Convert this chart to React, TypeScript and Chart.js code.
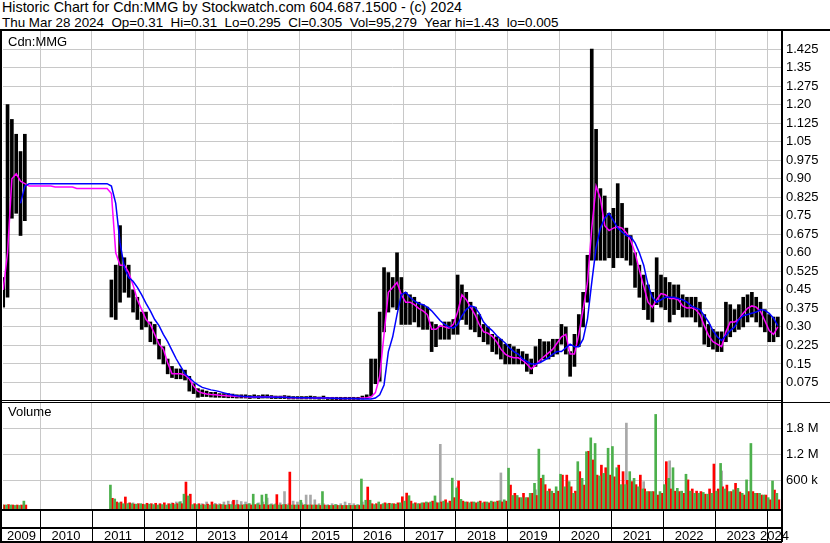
import React, { useEffect, useRef } from "react";
import { Chart, registerables } from "chart.js";
Chart.register(...registerables);

// ---------------- data (monthly, Apr 2009 .. Mar 2024) ----------------
const FIRST_YEAR = 2009;
const FIRST_MONTH = 4;

const HIGH = [
  /*2009*/ 0.50, 1.20, 1.14, 1.08, 1.01, 1.08, null, null, null,
  /*2010*/ null, null, null, null, null, null, null, null, null, null, null, null,
  /*2011*/ null, null, null, null, 0.49, 0.55, 0.71, 0.58, 0.55, 0.45, 0.42, 0.36,
  /*2012*/ 0.36, 0.32, 0.31, 0.25, 0.22, 0.17, 0.14, 0.13, 0.13, 0.125, 0.10, 0.07,
  /*2013*/ 0.05, 0.045, 0.04, 0.035, 0.035, 0.03, 0.03, 0.03, 0.028, 0.025, 0.025, 0.025,
  /*2014*/ 0.022, 0.025, 0.022, 0.025, 0.025, 0.022, 0.02, 0.02, 0.022, 0.02, 0.018, 0.018,
  /*2015*/ 0.018, 0.018, 0.02, 0.018, 0.016, 0.02, 0.015, 0.015, 0.015, 0.015, 0.015, 0.015,
  /*2016*/ 0.015, 0.015, 0.02, 0.025, 0.17, 0.17, 0.36, 0.54, 0.52, 0.50, 0.60, 0.50,
  /*2017*/ 0.44, 0.43, 0.42, 0.40, 0.39, 0.38, 0.32, 0.31, 0.30, 0.32, 0.32, 0.33,
  /*2018*/ 0.51, 0.47, 0.44, 0.40, 0.38, 0.35, 0.31, 0.30, 0.27, 0.26, 0.25, 0.23,
  /*2019*/ 0.23, 0.22, 0.21, 0.20, 0.19, 0.17, 0.22, 0.25, 0.24, 0.24, 0.25, 0.25,
  /*2020*/ 0.31, 0.30, 0.20, 0.27, 0.35, 0.44, 0.59, 1.425, 1.10, 0.86, 0.83, 0.76,
  /*2021*/ 0.78, 0.88, 0.80, 0.70, 0.67, 0.60, 0.55, 0.51, 0.47, 0.44, 0.58, 0.51,
  /*2022*/ 0.50, 0.48, 0.47, 0.47, 0.43, 0.42, 0.42, 0.42, 0.40, 0.35, 0.31, 0.29,
  /*2023*/ 0.28, 0.28, 0.40, 0.39, 0.37, 0.39, 0.42, 0.43, 0.44, 0.42, 0.40, 0.37,
  /*2024*/ 0.35, 0.34, 0.34,
];

const LOW = [
  /*2009*/ 0.38, 0.42, 0.74, 0.76, 0.67, 0.73, null, null, null,
  /*2010*/ null, null, null, null, null, null, null, null, null, null, null, null,
  /*2011*/ null, null, null, null, 0.34, 0.33, 0.40, 0.44, 0.42, 0.36, 0.33, 0.29,
  /*2012*/ 0.30, 0.24, 0.23, 0.17, 0.15, 0.11, 0.095, 0.09, 0.09, 0.085, 0.04, 0.03,
  /*2013*/ 0.015, 0.018, 0.018, 0.016, 0.015, 0.015, 0.014, 0.013, 0.013, 0.012, 0.012, 0.012,
  /*2014*/ 0.01, 0.012, 0.01, 0.012, 0.012, 0.01, 0.01, 0.01, 0.01, 0.008, 0.008, 0.008,
  /*2015*/ 0.008, 0.008, 0.008, 0.008, 0.007, 0.008, 0.006, 0.006, 0.005, 0.005, 0.006, 0.006,
  /*2016*/ 0.006, 0.006, 0.008, 0.01, 0.02, 0.07, 0.08, 0.28, 0.36, 0.38, 0.37, 0.31,
  /*2017*/ 0.31, 0.31, 0.32, 0.30, 0.29, 0.29, 0.20, 0.22, 0.25, 0.25, 0.25, 0.27,
  /*2018*/ 0.27, 0.33, 0.31, 0.29, 0.28, 0.26, 0.24, 0.23, 0.20, 0.19, 0.17, 0.15,
  /*2019*/ 0.15, 0.15, 0.15, 0.15, 0.12, 0.11, 0.14, 0.16, 0.17, 0.17, 0.18, 0.19,
  /*2020*/ 0.23, 0.19, 0.10, 0.14, 0.22, 0.30, 0.40, 0.57, 0.57, 0.57, 0.57, 0.58,
  /*2021*/ 0.54, 0.58, 0.58, 0.57, 0.55, 0.46, 0.42, 0.37, 0.33, 0.32, 0.39, 0.38,
  /*2022*/ 0.37, 0.32, 0.35, 0.37, 0.34, 0.34, 0.34, 0.32, 0.30, 0.23, 0.22, 0.21,
  /*2023*/ 0.20, 0.20, 0.24, 0.26, 0.28, 0.29, 0.30, 0.32, 0.34, 0.32, 0.30, 0.28,
  /*2024*/ 0.24, 0.24, 0.26,
];

// short moving average (magenta)
const MA_SHORT = [
  /*2009*/ 0.45, 0.60, 0.90, 0.92, 0.89, 0.88, 0.87, 0.87, 0.87,
  /*2010*/ 0.87, 0.87, 0.87, 0.866, 0.866, 0.866, 0.866, 0.866, 0.86, 0.86, 0.86, 0.86,
  /*2011*/ 0.86, 0.86, 0.86, 0.86, 0.84, 0.60, 0.55, 0.55, 0.52, 0.47, 0.41, 0.37,
  /*2012*/ 0.33, 0.31, 0.27, 0.23, 0.21, 0.155, 0.11, 0.11, 0.11, 0.105, 0.09, 0.06,
  /*2013*/ 0.04, 0.032, 0.028, 0.026, 0.025, 0.023, 0.022, 0.02, 0.02, 0.018, 0.018, 0.017,
  /*2014*/ 0.016, 0.017, 0.016, 0.017, 0.017, 0.016, 0.015, 0.015, 0.015, 0.013, 0.013, 0.013,
  /*2015*/ 0.013, 0.013, 0.013, 0.012, 0.012, 0.013, 0.011, 0.011, 0.01, 0.01, 0.01, 0.01,
  /*2016*/ 0.01, 0.01, 0.012, 0.013, 0.016, 0.034, 0.10, 0.27, 0.44, 0.46, 0.48, 0.43,
  /*2017*/ 0.40, 0.40, 0.39, 0.375, 0.365, 0.35, 0.29, 0.29, 0.305, 0.30, 0.295, 0.31,
  /*2018*/ 0.36, 0.43, 0.41, 0.38, 0.35, 0.31, 0.28, 0.275, 0.262, 0.24, 0.21, 0.19,
  /*2019*/ 0.18, 0.175, 0.175, 0.165, 0.15, 0.13, 0.145, 0.165, 0.18, 0.195, 0.21, 0.235,
  /*2020*/ 0.26, 0.27, 0.19, 0.19, 0.27, 0.37, 0.48, 0.70, 0.87, 0.82, 0.71, 0.69,
  /*2021*/ 0.70, 0.705, 0.70, 0.68, 0.65, 0.60, 0.53, 0.465, 0.40, 0.38, 0.41, 0.435,
  /*2022*/ 0.43, 0.415, 0.415, 0.41, 0.385, 0.377, 0.378, 0.37, 0.35, 0.305, 0.265, 0.24,
  /*2023*/ 0.23, 0.22, 0.28, 0.32, 0.32, 0.33, 0.355, 0.375, 0.385, 0.38, 0.363, 0.325,
  /*2024*/ 0.285, 0.27, 0.30,
];

// long moving average (blue)
const MA_LONG = [
  /*2009*/ null, null, null, null, 0.80, 0.87, 0.88, 0.88, 0.88,
  /*2010*/ 0.88, 0.88, 0.88, 0.88, 0.88, 0.88, 0.88, 0.88, 0.88, 0.88, 0.88, 0.88,
  /*2011*/ 0.88, 0.88, 0.88, 0.88, 0.87, 0.80, 0.64, 0.54, 0.50, 0.485, 0.46, 0.43,
  /*2012*/ 0.395, 0.365, 0.33, 0.305, 0.27, 0.24, 0.205, 0.17, 0.14, 0.11, 0.095, 0.078,
  /*2013*/ 0.065, 0.055, 0.05, 0.045, 0.042, 0.038, 0.033, 0.028, 0.024, 0.021, 0.019, 0.018,
  /*2014*/ 0.017, 0.016, 0.016, 0.016, 0.016, 0.016, 0.015, 0.015, 0.015, 0.014, 0.014, 0.013,
  /*2015*/ 0.013, 0.013, 0.013, 0.012, 0.012, 0.012, 0.012, 0.011, 0.011, 0.01, 0.01, 0.01,
  /*2016*/ 0.01, 0.009, 0.008, 0.008, 0.008, 0.012, 0.025, 0.065, 0.20, 0.26, 0.35, 0.43,
  /*2017*/ 0.44, 0.42, 0.405, 0.395, 0.39, 0.38, 0.365, 0.345, 0.325, 0.31, 0.30, 0.295,
  /*2018*/ 0.31, 0.345, 0.37, 0.385, 0.38, 0.355, 0.32, 0.30, 0.285, 0.265, 0.25, 0.235,
  /*2019*/ 0.215, 0.20, 0.19, 0.17, 0.16, 0.15, 0.15, 0.155, 0.165, 0.175, 0.19, 0.20,
  /*2020*/ 0.20, 0.215, 0.23, 0.22, 0.22, 0.25, 0.33, 0.48, 0.62, 0.70, 0.74, 0.76,
  /*2021*/ 0.73, 0.70, 0.685, 0.67, 0.665, 0.64, 0.60, 0.55, 0.47, 0.42, 0.40, 0.41,
  /*2022*/ 0.42, 0.42, 0.42, 0.415, 0.41, 0.40, 0.385, 0.377, 0.37, 0.345, 0.32, 0.285,
  /*2023*/ 0.26, 0.245, 0.265, 0.285, 0.30, 0.33, 0.345, 0.35, 0.355, 0.36, 0.37, 0.367,
  /*2024*/ 0.355, 0.335, 0.305,
];

// volume: up periods (green), down periods (red), unchanged (grey)
const VOL_UP = [
  /*2009*/ 40e3, 30e3, 30e3, 20e3, 20e3, 120e3, null, null, null,
  /*2010*/ null, null, null, null, null, null, null, null, null, null, null, null,
  /*2011*/ null, null, null, null, 490e3, 170e3, 80e3, 60e3, 60e3, 60e3, 50e3, 60e3,
  /*2012*/ 40e3, 50e3, 40e3, 30e3, 40e3, 30e3, 50e3, 40e3, 100e3, 280e3, 240e3, 40e3,
  /*2013*/ 40e3, 30e3, 30e3, 30e3, 40e3, 30e3, 40e3, 30e3, 40e3, 30e3, 30e3, 40e3,
  /*2014*/ 60e3, 280e3, 60e3, 260e3, 280e3, 40e3, 40e3, 30e3, 40e3, 30e3, 30e3, 30e3,
  /*2015*/ 140e3, 40e3, 30e3, 30e3, 30e3, 340e3, 20e3, 20e3, 40e3, 20e3, 20e3, 20e3,
  /*2016*/ 20e3, 30e3, 630e3, 140e3, 140e3, 40e3, 100e3, 60e3, 60e3, 60e3, 50e3, 80e3,
  /*2017*/ 120e3, 245e3, 60e3, 60e3, 80e3, 100e3, 100e3, 240e3, 80e3, 120e3, 80e3, 650e3,
  /*2018*/ 420e3, 160e3, 100e3, 80e3, 100e3, 100e3, 80e3, 100e3, 120e3, 100e3, 130e3, 150e3,
  /*2019*/ 880e3, 250e3, 250e3, 200e3, 200e3, 300e3, 530e3, 1320e3, 720e3, 350e3, 350e3, 450e3,
  /*2020*/ 740e3, 450e3, 570e3, 300e3, 1030e3, 645e3, 1260e3, 1580e3, 1450e3, 700e3, 760e3, 1340e3,
  /*2021*/ 1380e3, 890e3, 500e3, 500e3, 800e3, 645e3, 450e3, 400e3, 340e3, 340e3, 2120e3, 340e3,
  /*2022*/ 500e3, 645e3, 890e3, 415e3, 350e3, 740e3, 350e3, 300e3, 300e3, 320e3, 280e3, 300e3,
  /*2023*/ 350e3, 990e3, 400e3, 340e3, 380e3, 415e3, 300e3, 610e3, 1450e3, 300e3, 300e3, 260e3,
  /*2024*/ 200e3, 585e3, 300e3,
];

const VOL_DOWN = [
  /*2009*/ 30e3, 40e3, 30e3, 30e3, 30e3, 30e3, null, null, null,
  /*2010*/ null, null, null, null, null, null, null, null, null, null, null, null,
  /*2011*/ null, null, null, null, 185e3, 100e3, 100e3, 215e3, 80e3, 50e3, 60e3, 50e3,
  /*2012*/ 70e3, 60e3, 70e3, 60e3, 80e3, 60e3, 70e3, 60e3, 60e3, 560e3, 280e3, 60e3,
  /*2013*/ 60e3, 40e3, 50e3, 100e3, 40e3, 40e3, 30e3, 40e3, 140e3, 40e3, 30e3, 40e3,
  /*2014*/ 30e3, 40e3, 30e3, 40e3, 30e3, 30e3, 270e3, 30e3, 40e3, 790e3, 30e3, 30e3,
  /*2015*/ 30e3, 30e3, 30e3, 30e3, 20e3, 30e3, 20e3, 20e3, 20e3, 20e3, 20e3, 20e3,
  /*2016*/ 20e3, 20e3, 30e3, 445e3, 60e3, 60e3, 40e3, 80e3, 70e3, 60e3, 80e3, 220e3,
  /*2017*/ 305e3, 120e3, 80e3, 60e3, 80e3, 80e3, 120e3, 80e3, 100e3, 150e3, 120e3, 200e3,
  /*2018*/ 585e3, 120e3, 100e3, 100e3, 80e3, 120e3, 100e3, 80e3, 100e3, 120e3, 100e3, 120e3,
  /*2019*/ 490e3, 300e3, 200e3, 300e3, 200e3, 300e3, 250e3, 645e3, 500e3, 400e3, 300e3, 350e3,
  /*2020*/ 720e3, 720e3, 450e3, 350e3, 800e3, 490e3, 1270e3, 1070e3, 720e3, 950e3, 890e3, 720e3,
  /*2021*/ 680e3, 950e3, 800e3, 600e3, 570e3, 500e3, 720e3, 400e3, 340e3, 340e3, 260e3, 300e3,
  /*2022*/ 1030e3, 400e3, 350e3, 340e3, 300e3, 610e3, 400e3, 350e3, 340e3, 280e3, 400e3, 975e3,
  /*2023*/ 400e3, 450e3, 490e3, 340e3, 530e3, 330e3, 260e3, 340e3, 340e3, 300e3, 260e3, 260e3,
  /*2024*/ 150e3, 375e3, 150e3,
];

const VOL_FLAT = [
  /*2009*/ null, null, null, null, null, null, null, null, null,
  /*2010*/ null, null, null, null, null, null, null, null, null, null, null, null,
  /*2011*/ null, null, null, null, null, null, null, null, 70e3, 80e3, null, null,
  /*2012*/ null, null, null, null, null, null, 80e3, 100e3, 110e3, null, null, null,
  /*2013*/ null, 60e3, 100e3, null, 70e3, 60e3, 100e3, 120e3, 110e3, 140e3, 110e3, 100e3,
  /*2014*/ 60e3, null, 80e3, 100e3, 190e3, 60e3, 60e3, 80e3, 340e3, 60e3, 120e3, 100e3,
  /*2015*/ 80e3, 260e3, 260e3, 150e3, 60e3, 60e3, 40e3, 60e3, 40e3, 60e3, 100e3, 70e3,
  /*2016*/ 60e3, 40e3, 100e3, null, null, null, null, null, null, null, null, null,
  /*2017*/ null, 100e3, null, null, null, 80e3, null, 100e3, 1430e3, null, null, null,
  /*2018*/ 450e3, null, null, null, null, null, null, null, null, null, 770e3, null,
  /*2019*/ null, null, null, null, null, null, 380e3, null, null, null, 300e3, null,
  /*2020*/ null, null, null, null, null, null, null, null, null, null, null, null,
  /*2021*/ null, null, null, 1920e3, null, null, null, 570e3, null, null, null, null,
  /*2022*/ null, 1050e3, null, null, null, null, null, null, null, null, null, null,
  /*2023*/ null, 815e3, null, null, null, null, null, null, null, null, null, null,
  /*2024*/ null, null, null,
];

const PRICE_TICKS = [0.075, 0.15, 0.225, 0.3, 0.375, 0.45, 0.525, 0.6, 0.675, 0.75, 0.825, 0.9, 0.975, 1.05, 1.125, 1.2, 1.275, 1.35, 1.425];
const PRICE_TICK_LABELS = ["0.075", "0.15", "0.225", "0.30", "0.375", "0.45", "0.525", "0.60", "0.675", "0.75", "0.825", "0.90", "0.975", "1.05", "1.125", "1.20", "1.275", "1.35", "1.425"];
const VOL_TICKS = [600000, 1200000, 1800000];
const VOL_TICK_LABELS = ["600 k", "1.2 M", "1.8 M"];
const YEAR_BOUNDARIES = [2010, 2011, 2012, 2013, 2014, 2015, 2016, 2017, 2018, 2019, 2020, 2021, 2022, 2023, 2024];
const YEAR_LABELS = ["2009", "2010", "2011", "2012", "2013", "2014", "2015", "2016", "2017", "2018", "2019", "2020", "2021", "2022", "2023", "2024"];

const HEADER_1 = "Historic Chart for Cdn:MMG by Stockwatch.com 604.687.1500 - (c) 2024";
const HEADER_2 = "Thu Mar 28 2024  Op=0.31  Hi=0.31  Lo=0.295  Cl=0.305  Vol=95,279  Year hi=1.43  lo=0.005";

// ---------------- layout constants ----------------
const X_MIN = 2009.2875;
const X_MAX = 2024.2884;
const P_MIN = 0;
const P_MAX = 1.498;
const V_MIN = -62000;
const V_MAX = 2407000;
const BAR_SHIFT = 0.019; // ~1px in years
const FONT = '"Liberation Sans", Arial, Helvetica, sans-serif';
const GRID = "#c8c8c8";

const monthTime = (i: number) => {
  const m = FIRST_MONTH - 1 + i;
  return FIRST_YEAR + Math.floor(m / 12) + ((m % 12) + 0.5) / 12;
};

const zeroPad = (s: any) => {
  s.paddingLeft = 0; s.paddingRight = 0; s.paddingTop = 0; s.paddingBottom = 0;
};

const yearBand = {
  id: "yearBand",
  afterDraw(chart: any) {
    const { ctx, chartArea, scales } = chart;
    const x = scales.x;
    const top = chartArea.bottom;
    const right = chartArea.right;
    ctx.save();
    ctx.fillStyle = "#000";
    ctx.fillRect(0, top, right, 2);
    ctx.fillRect(0, top + 18, right, 2);
    ctx.fillRect(0, top + 32, right, 2);
    YEAR_BOUNDARIES.forEach((b) => {
      const px = Math.round(x.getPixelForValue(b));
      ctx.fillRect(px, top, 1, 33);
    });
    ctx.font = `13px ${FONT}`;
    ctx.textAlign = "center";
    ctx.textBaseline = "alphabetic";
    const edges = [X_MIN, ...YEAR_BOUNDARIES, X_MAX];
    YEAR_LABELS.forEach((lab, i) => {
      const a = x.getPixelForValue(edges[i]);
      const b = x.getPixelForValue(edges[i + 1]);
      ctx.fillText(lab, (a + b) / 2, top + 31);
    });
    ctx.restore();
  },
};

export default function App() {
  const priceRef = useRef<HTMLCanvasElement>(null);
  const volRef = useRef<HTMLCanvasElement>(null);

  useEffect(() => {
    document.body.style.margin = "0";
    const bars = HIGH.map((h, i) => (h == null || LOW[i] == null ? null : { x: monthTime(i), y: [LOW[i], h] })).filter(Boolean);
    const maShort = MA_SHORT.map((v, i) => (v == null ? null : { x: monthTime(i), y: v })).filter(Boolean);
    const maLong = MA_LONG.map((v, i) => (v == null ? null : { x: monthTime(i), y: v })).filter(Boolean);

    const xScale = (h: number) => ({
      type: "linear",
      min: X_MIN,
      max: X_MAX,
      offset: false,
      afterBuildTicks: (s: any) => { s.ticks = YEAR_BOUNDARIES.map((v) => ({ value: v })); },
      ticks: { display: false },
      grid: { color: GRID, drawTicks: false, offset: false, lineWidth: 1 },
      border: { display: false },
      afterFit: (s: any) => { s.height = h; zeroPad(s); },
    });

    const priceChart = new Chart(priceRef.current as HTMLCanvasElement, {
      type: "bar",
      data: {
        datasets: [
          { type: "line", label: "MA long", data: maLong, borderColor: "#0000ff", borderWidth: 1.5, pointRadius: 0, tension: 0, order: 0 },
          { type: "line", label: "MA short", data: maShort, borderColor: "#ff00ff", borderWidth: 1.5, pointRadius: 0, tension: 0, order: 1 },
          { type: "bar", label: "High-Low", data: bars, backgroundColor: "#000000", barThickness: 3, grouped: false, order: 2 },
        ] as any,
      },
      options: {
        responsive: false,
        animation: false,
        devicePixelRatio: 1,
        layout: { padding: { left: 3, right: 0, top: 0, bottom: 0 } },
        plugins: { legend: { display: false }, tooltip: { enabled: false }, title: { display: false } },
        scales: {
          x: xScale(0) as any,
          y: {
            type: "linear",
            position: "right",
            min: P_MIN,
            max: P_MAX,
            afterBuildTicks: (s: any) => { s.ticks = PRICE_TICKS.map((v) => ({ value: v })); },
            ticks: {
              autoSkip: false,
              padding: 4,
              color: "#000",
              font: { family: FONT, size: 13 },
              callback: (_v: any, i: number) => PRICE_TICK_LABELS[i],
            },
            grid: { color: GRID, drawTicks: false },
            border: { display: false },
            afterFit: (s: any) => { s.width = 48; zeroPad(s); },
          },
        },
      } as any,
    });

    const volSeries = (arr: any[], shift: number) =>
      arr.map((v, i) => (v == null ? null : { x: monthTime(i) + shift, y: v })).filter(Boolean);

    const volChart = new Chart(volRef.current as HTMLCanvasElement, {
      type: "bar",
      data: {
        datasets: [
          { label: "Up volume", data: volSeries(VOL_UP, -BAR_SHIFT), backgroundColor: "#4cb04c", barThickness: 2, grouped: false, base: V_MIN, order: 0 },
          { label: "Down volume", data: volSeries(VOL_DOWN, BAR_SHIFT), backgroundColor: "#ff0000", barThickness: 2, grouped: false, base: V_MIN, order: 1 },
          { label: "Unchanged volume", data: volSeries(VOL_FLAT, 0), backgroundColor: "#a8a8a8", barThickness: 2, grouped: false, base: V_MIN, order: 2 },
        ] as any,
      },
      options: {
        responsive: false,
        animation: false,
        devicePixelRatio: 1,
        layout: { padding: { left: 3, right: 0, top: 0, bottom: 0 } },
        plugins: { legend: { display: false }, tooltip: { enabled: false }, title: { display: false } },
        scales: {
          x: xScale(34) as any,
          y: {
            type: "linear",
            position: "right",
            min: V_MIN,
            max: V_MAX,
            afterBuildTicks: (s: any) => { s.ticks = VOL_TICKS.map((v) => ({ value: v })); },
            ticks: {
              autoSkip: false,
              padding: 4,
              color: "#000",
              font: { family: FONT, size: 13 },
              callback: (_v: any, i: number) => VOL_TICK_LABELS[i],
            },
            grid: { color: GRID, drawTicks: false },
            border: { display: false },
            afterFit: (s: any) => { s.width = 48; zeroPad(s); },
          },
        },
      } as any,
      plugins: [yearBand as any],
    });

    return () => {
      priceChart.destroy();
      volChart.destroy();
    };
  }, []);

  const abs = (s: any) => ({ position: "absolute" as const, ...s });
  const line = (left: number, top: number, width: number, height: number) => (
    <div style={abs({ left, top, width, height, background: "#000" })} />
  );

  return (
    <div style={{ position: "fixed", left: 0, top: 0, width: 830, height: 543, background: "#fff", overflow: "hidden", fontFamily: FONT, fontSize: 13, color: "#000" }}>
      <div style={abs({ left: 2, top: 0, whiteSpace: "pre", lineHeight: "15px", fontSize: 14.3 })}>{HEADER_1}</div>
      <div style={abs({ left: 2, top: 15, whiteSpace: "pre", lineHeight: "15px", fontSize: 13.4 })}>{HEADER_2}</div>
      <canvas ref={priceRef} width={830} height={370} style={abs({ left: 0, top: 31, width: 830, height: 370 })} />
      <canvas ref={volRef} width={830} height={141} style={abs({ left: 0, top: 402, width: 830, height: 141 })} />
      {line(0, 29, 830, 2)}
      {line(0, 29, 2, 513)}
      {line(781, 29, 2, 513)}
      {line(0, 400, 782, 1)}
      {line(0, 402, 830, 1)}
      <div style={abs({ left: 8, top: 34, lineHeight: "15px" })}>Cdn:MMG</div>
      <div style={abs({ left: 8, top: 404, lineHeight: "15px" })}>Volume</div>
    </div>
  );
}
